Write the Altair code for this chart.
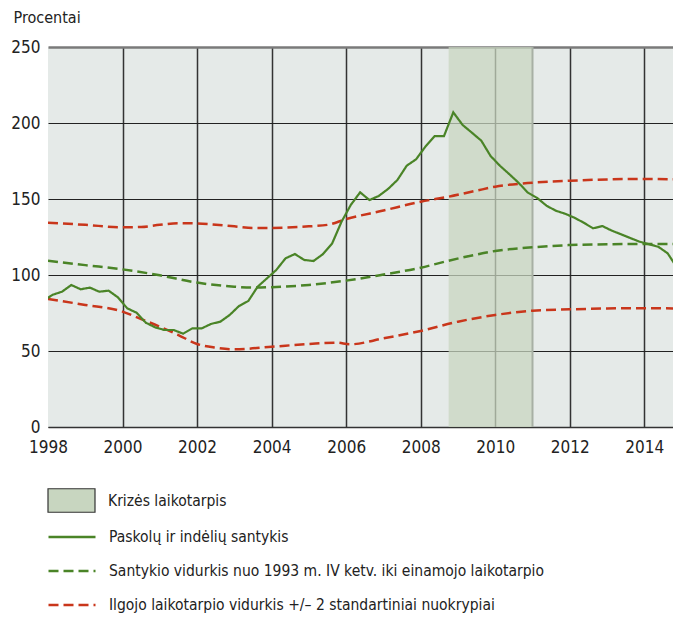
import altair as alt
import pandas as pd

# ---------------- data ----------------
series_names = [
    "Paskolų ir indėlių santykis",
    "Santykio vidurkis nuo 1993 m. IV ketv. iki einamojo laikotarpio",
    "Ilgojo laikotarpio vidurkis +/– 2 standartiniai nuokrypiai",
]
crisis_label = ["Krizės laikotarpis"]
crisis_start = [2008.75]
crisis_end = [2011.0]

# quarterly loan-to-deposit ratio, first quarter 1997 Q4 (plotted at mid-quarter)
ratio_first_year = 1997
ratio_first_quarter = 4
ratio_values = [
    83, 87, 89, 93.4, 90.6, 91.7, 89, 89.7, 85.3, 78.1, 75.2, 68.6, 65.6, 63.8, 63.8,
    61.4, 64.9, 64.9, 67.8, 69.3, 73.7, 79.6, 82.9, 92.3, 97.8, 103.3, 111, 113.8,
    109.9, 109.2, 113.7, 120.8, 135, 146.1, 154.4, 149.3, 152.0, 156.6, 162.5, 171.9,
    176.1, 184.4, 191.4, 191.4, 207.0, 198.7, 193.6, 188.4, 178.3, 171.9, 166.4,
    160.7, 154.2, 150.7, 145.6, 142.3, 140.3, 137.7, 134.4, 130.7, 132.2, 129.2,
    126.8, 124.3, 121.9, 120.2, 118.6, 114.3, 105,
]

mean_years = [1998, 1999, 2000, 2001, 2002, 2003, 2003.5, 2004, 2005, 2006, 2007,
              2008, 2008.75, 2009.5, 2010, 2011, 2012, 2013, 2014, 2014.9]
mean_values = [109.4, 106.5, 103.7, 99.8, 95.0, 92.3, 91.7, 92.0, 93.5, 96.3, 100.3,
               104.8, 109.4, 113.5, 115.8, 118.2, 119.7, 120.2, 120.4, 120.4]

upper_years = [1998, 1999, 2000, 2000.5, 2001, 2001.5, 2002, 2003, 2003.5, 2004, 2005,
               2005.5, 2006, 2007, 2008, 2008.75, 2009.5, 2010, 2011, 2012, 2013, 2014, 2014.9]
upper_values = [134.4, 133.0, 131.4, 131.6, 133.0, 134.1, 133.9, 132.0, 131.0, 131.0, 132.0,
                133.0, 136.8, 142.4, 148.2, 151.5, 155.5, 158.1, 160.7, 162.0, 162.9, 163.2, 162.9]

lower_years = [1998, 1999, 2000, 2000.5, 2001, 2001.5, 2002, 2002.5, 2003, 2004, 2005,
               2005.75, 2006.1, 2007, 2008, 2009, 2010, 2011, 2012, 2013, 2014, 2014.9]
lower_values = [84.2, 80.3, 75.9, 71.0, 66.0, 60.5, 54.6, 52.2, 51.1, 52.8, 54.6,
                55.5, 54.4, 58.3, 63.2, 69.3, 73.7, 76.5, 77.4, 78.0, 78.2, 78.0]

y_ticks = [0, 50, 100, 150, 200, 250]
x_ticks = [1998, 2000, 2002, 2004, 2006, 2008, 2010, 2012, 2014]

# ---------------- tables ----------------
ratio_x = []
for i in range(len(ratio_values)):
    q_index = (ratio_first_quarter - 1) + i
    ratio_x.append(ratio_first_year + q_index // 4 + (q_index % 4) * 0.25 + 0.125)

ratio_df = pd.DataFrame({"x": ratio_x, "value": ratio_values,
                         "series": series_names[0], "line": "ratio"})
avg_df = pd.concat([
    pd.DataFrame({"x": mean_years, "value": mean_values, "series": series_names[1], "line": "mean"}),
    pd.DataFrame({"x": upper_years, "value": upper_values, "series": series_names[2], "line": "upper"}),
    pd.DataFrame({"x": lower_years, "value": lower_values, "series": series_names[2], "line": "lower"}),
])
crisis_df = pd.DataFrame({"start": crisis_start, "end": crisis_end, "label": crisis_label})

FONT = "Liberation Sans Narrow, Arial Narrow, DejaVu Sans Condensed, sans-serif"
GREEN = "#4a8427"
RED = "#c9361b"

x_scale = alt.Scale(domain=[1998, 2014.77], nice=False, zero=False)
y_scale = alt.Scale(domain=[0, 250], nice=False)

x_axis = alt.Axis(
    values=x_ticks, format="d", title=None, ticks=False, labelPadding=12, labelFlush=False,
    labelFontSize=17, labelFont=FONT, labelColor="#222",
    domain=True, domainColor="#333", domainWidth=1.5,
    grid=True, gridColor="#333", gridWidth=1.5,
    gridOpacity={"condition": {"test": "datum.value === 1998", "value": 0}, "value": 1},
)
y_axis = alt.Axis(
    values=y_ticks, title="Procentai", ticks=False, domain=False, labelPadding=8,
    labelFontSize=17, labelFont=FONT, labelColor="#222",
    grid=True,
    gridColor={"condition": {"test": "datum.value === 250", "value": "#7a7a7a"}, "value": "#222"},
    gridWidth={"condition": {"test": "datum.value === 250", "value": 2.5}, "value": 1},
    titleAngle=0, titleAlign="left", titleBaseline="middle", titleX=-35, titleY=-30,
    titleFont=FONT, titleFontSize=16, titleFontWeight="normal", titleColor="#222",
)

line_legend = alt.Legend(
    title=None, orient="none", legendX=-1, legendY=465, direction="vertical",
    symbolType="stroke", symbolSize=2209, symbolStrokeWidth=2.5,
    labelFont=FONT, labelFontSize=15.5, labelColor="#222", labelOffset=12,
    labelLimit=600, rowPadding=-9.5, padding=0,
)

band = alt.Chart(crisis_df).mark_rect(opacity=0.73).encode(
    x=alt.X("start:Q", scale=x_scale, axis=x_axis),
    x2="end:Q",
    fill=alt.Fill("label:N", scale=alt.Scale(range=["#c8d6c0"]), legend=alt.Legend(
        title=None, orient="none", legendX=-1, legendY=429, padding=0,
        symbolType="M-1,-0.5H1V0.5H-1Z", symbolSize=2209, symbolStrokeColor="#333",
        symbolStrokeWidth=1.2, symbolOpacity=1, symbolFillColor="#c5d4b3",
        labelFont=FONT, labelFontSize=15.5, labelColor="#222", labelOffset=12,
    )),
)
band_edge = alt.Chart(crisis_df).mark_rule(color="#a7b0a4", strokeWidth=2).encode(
    x=alt.X("end:Q", scale=x_scale),
)

color_enc = alt.Color("series:N", scale=alt.Scale(domain=series_names, range=[GREEN, GREEN, RED]),
                      legend=line_legend)
dash_enc = alt.StrokeDash("series:N", scale=alt.Scale(domain=series_names, range=[[1, 0], [10, 5], [10, 5]]),
                          legend=line_legend)

avg_lines = alt.Chart(avg_df).mark_line(strokeWidth=2.5, interpolate="monotone", clip=True).encode(
    x=alt.X("x:Q", scale=x_scale),
    y=alt.Y("value:Q", scale=y_scale, axis=y_axis),
    color=color_enc, strokeDash=dash_enc, detail="line:N",
)
ratio_line = alt.Chart(ratio_df).mark_line(strokeWidth=2.2, clip=True).encode(
    x=alt.X("x:Q", scale=x_scale),
    y=alt.Y("value:Q", scale=y_scale),
    color=color_enc, strokeDash=dash_enc, detail="line:N",
)

chart = alt.layer(band, band_edge, avg_lines, ratio_line).properties(
    width=625, height=380,
    autosize=alt.AutoSizeParams(type="none"),
    padding={"left": 40, "top": 39, "right": 0, "bottom": 187},
    background="white",
).configure_view(fill="#e5eae8", stroke=None)

chart.save("out.html", embed_options={"renderer": "svg", "actions": False})
